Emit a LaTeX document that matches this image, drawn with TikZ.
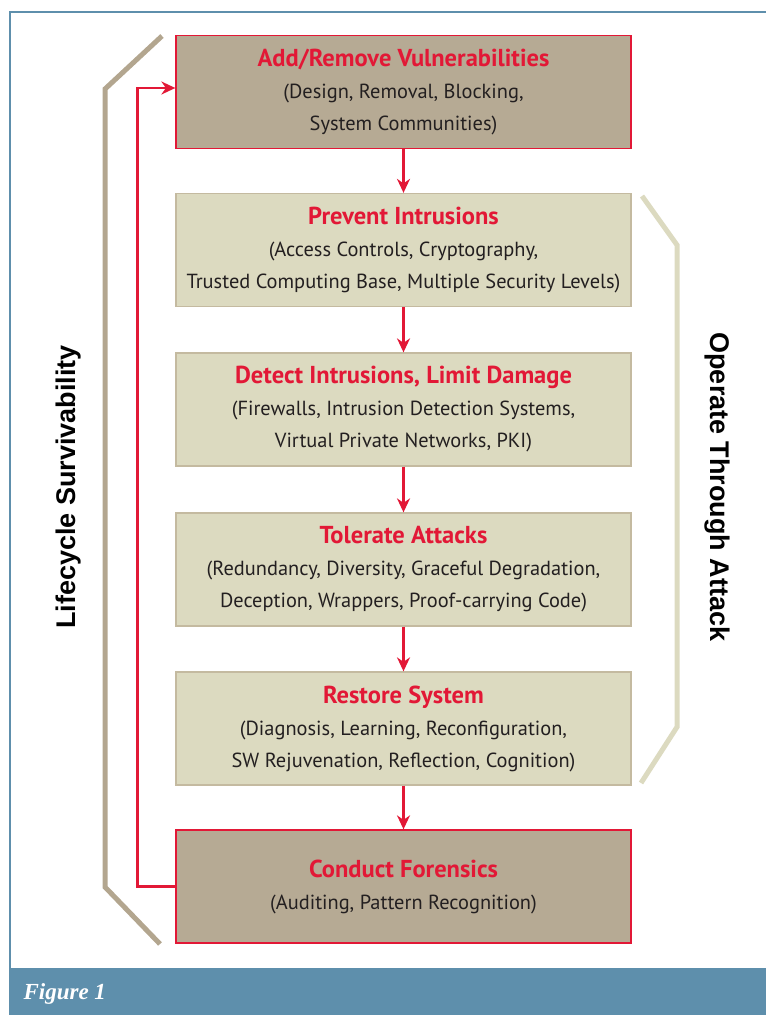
\documentclass[tikz,border=0pt]{standalone}
\usepackage{fontspec}
\setmainfont{PT Sans}
\newfontfamily\figfont{Liberation Serif}
\newfontfamily\sidefont{Liberation Sans}
\usetikzlibrary{arrows.meta}
\definecolor{redc}{RGB}{226,24,54}
\definecolor{darkfill}{RGB}{182,170,148}
\definecolor{lightfill}{RGB}{220,218,192}
\definecolor{lightedge}{RGB}{196,186,160}
\definecolor{leftbr}{RGB}{179,166,143}
\definecolor{bluec}{RGB}{94,143,172}
\definecolor{textc}{RGB}{35,31,32}
\newcommand{\boxtitle}[1]{{\color{redc}\fontsize{24.5}{35}\selectfont\bfseries #1}}
\tikzset{
  stage/.style={minimum width=455pt, minimum height=113pt, align=center,
    inner sep=0pt, text=textc, font=\fontsize{20.4}{32}\selectfont},
  outer/.style={stage, fill=darkfill, draw=redc, line width=1.3pt},
  inner/.style={stage, fill=lightfill, draw=lightedge, line width=1.3pt},
  flow/.style={draw=redc, line width=2.6pt, -{Stealth[length=14pt, width=13pt]}},
  bracket/.style={line width=5pt},
  side/.style={font=\sidefont\fontsize{27}{30}\selectfont\bfseries},
}
\begin{document}
\begin{tikzpicture}[x=1pt, y=-1pt]
  \useasboundingbox (0,0) rectangle (766,1015);
  % frame and caption bar
  \draw[bluec, line width=1.5pt] (10,1015) -- (10,12) -- (766,12);
  \fill[bluec] (9,968) rectangle (766,1015);
  \node[anchor=west, text=white, font=\figfont\fontsize{23}{26}\selectfont\bfseries\itshape] (cap) at (20,994) {Figure 1};
  % stages
  \node[outer] (vuln) at (403.5,92) {\boxtitle{Add/Remove Vulnerabilities}\\(Design, Removal, Blocking,\\System Communities)};
  \node[inner] (prev) at (403.5,250) {\boxtitle{Prevent Intrusions}\\(Access Controls, Cryptography,\\Trusted Computing Base, Multiple Security Levels)};
  \node[inner] (detect) at (403.5,409.5) {\boxtitle{Detect Intrusions, Limit Damage}\\(Firewalls, Intrusion Detection Systems,\\Virtual Private Networks, PKI)};
  \node[inner] (tol) at (403.5,569.5) {\boxtitle{Tolerate Attacks}\\(Redundancy, Diversity, Graceful Degradation,\\Deception, Wrappers, Proof-carrying Code)};
  \node[inner] (rest) at (403.5,728.5) {\boxtitle{Restore System}\\(Diagnosis, Learning, Reconfiguration,\\SW Rejuvenation, Reflection, Cognition)};
  \node[outer] (foren) at (403.5,886.5) {\boxtitle{Conduct Forensics}\\(Auditing, Pattern Recognition)};
  % arrows
  \draw[flow] (vuln) -- (prev);
  \draw[flow] (prev) -- (detect);
  \draw[flow] (detect) -- (tol);
  \draw[flow] (tol) -- (rest);
  \draw[flow] (rest) -- (foren);
  \draw[flow] (foren.west) -- ++(-38,0) |- ([yshift=4pt]vuln.west);
  % brackets
  \draw[bracket, leftbr] (162,36) -- (105,89) -- (105,887) -- (160,944);
  \draw[bracket, lightfill] (642,196) -- (677,245) -- (677,727) -- (641,783);
  \node[side, rotate=90] (life) at (69,487) {Lifecycle Survivability};
  \node[side, rotate=-90] (op) at (717,487) {Operate Through Attack};
\end{tikzpicture}
\end{document}
